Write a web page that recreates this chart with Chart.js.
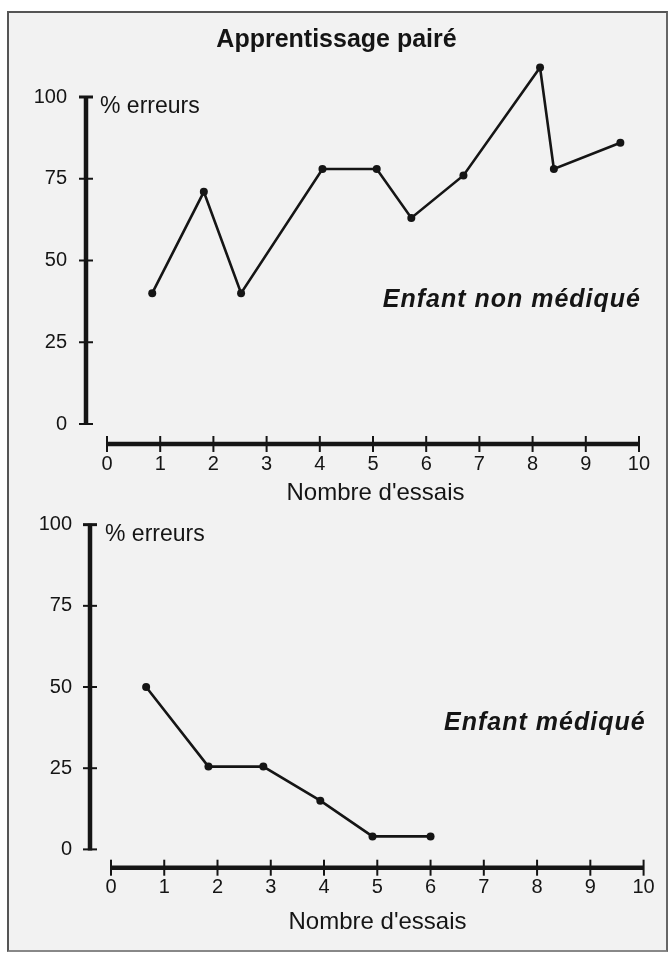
<!DOCTYPE html>
<html>
<head>
<meta charset="utf-8">
<script src="https://cdn.jsdelivr.net/npm/chart.js@4.4.1/dist/chart.umd.min.js"></script>
<style>
  html, body { margin: 0; padding: 0; background: #fff; }
  #page { position: relative; width: 670px; height: 955px; overflow: hidden; }
  #frame {
    position: absolute; left: 7px; top: 11px; width: 657px; height: 937px;
    background: #f2f2f2; border: 2px solid #555; border-bottom-color: #888; border-right-color: #666;
  }
  .box { position: absolute; left: 0; width: 670px; }
</style>
</head>
<body>
<div id="page">
  <div id="frame"></div>
  <div class="box" style="top:0;height:510px"><canvas id="top-chart" width="670" height="510"></canvas></div>
  <div class="box" style="top:510px;height:445px"><canvas id="bottom-chart" width="670" height="445"></canvas></div>
</div>
<script>
const FONT = "'Liberation Sans', Arial, Helvetica, sans-serif";
const INK = "#151515";

// Nombre d'essais ticks and % erreurs ticks
const xTicks = [0, 1, 2, 3, 4, 5, 6, 7, 8, 9, 10];
const yTicks = [0, 25, 50, 75, 100];

// Enfant non médiqué
const nonMedEssais = [0.85, 1.82, 2.52, 4.05, 5.07, 5.72, 6.7, 8.14, 8.4, 9.65];
const nonMedErreurs = [40, 71, 40, 78, 78, 63, 76, 109, 78, 86];

// Enfant médiqué
const medEssais = [0.66, 1.83, 2.86, 3.93, 4.91, 6.0];
const medErreurs = [50, 25.5, 25.5, 15, 4, 4];

function pairs(xs, ys) {
  return xs.map((x, i) => ({ x, y: ys[i] }));
}

// draws the thick axes with crossing ticks, the "% erreurs" label and the series note
const axesDeco = {
  id: "axesDeco",
  beforeDatasetsDraw(chart, args, opts) {
    const { ctx, chartArea } = chart;
    const xs = chart.scales.x;
    const ys = chart.scales.y;
    const ax = chartArea.left;
    const ay = chartArea.bottom + 1;
    ctx.save();
    ctx.strokeStyle = INK;
    ctx.lineCap = "butt";

    // y axis
    ctx.lineWidth = 4.5;
    ctx.beginPath();
    ctx.moveTo(ax, ys.getPixelForValue(0) + 1);
    ctx.lineTo(ax, ys.getPixelForValue(100) - 1);
    ctx.stroke();
    for (const v of yTicks) {
      const py = ys.getPixelForValue(v);
      ctx.lineWidth = v === 100 ? 3 : 2;
      ctx.beginPath();
      ctx.moveTo(ax - 7, py);
      ctx.lineTo(ax + 7, py);
      ctx.stroke();
    }

    // x axis
    ctx.lineWidth = 4.5;
    ctx.beginPath();
    ctx.moveTo(xs.getPixelForValue(0), ay);
    ctx.lineTo(xs.getPixelForValue(10), ay);
    ctx.stroke();
    ctx.lineWidth = 2;
    for (const v of xTicks) {
      const px = xs.getPixelForValue(v);
      ctx.beginPath();
      ctx.moveTo(px, ay - 8);
      ctx.lineTo(px, ay + 8);
      ctx.stroke();
    }

    // labels
    ctx.fillStyle = INK;
    ctx.textBaseline = "middle";
    ctx.textAlign = "left";
    ctx.font = "23px " + FONT;
    ctx.fillText("% erreurs", ax + opts.unitDx, ys.getPixelForValue(97));

    ctx.textAlign = "right";
    ctx.font = "italic bold 25px " + FONT;
    if ("letterSpacing" in ctx) ctx.letterSpacing = "1px";
    ctx.fillText(opts.note, xs.getPixelForValue(10) + 2, ys.getPixelForValue(opts.noteY));
    ctx.restore();
  },
};

function makeChart(id, essais, erreurs, cfg) {
  return new Chart(document.getElementById(id), {
    type: "line",
    data: {
      datasets: [{
        data: pairs(essais, erreurs),
        borderColor: INK,
        borderWidth: 2.6,
        backgroundColor: INK,
        pointRadius: 4,
        pointBorderWidth: 0,
        pointBackgroundColor: INK,
        tension: 0,
        clip: false,
      }],
    },
    options: {
      responsive: false,
      animation: false,
      events: [],
      layout: { padding: { left: cfg.padLeft, right: cfg.padRight, top: cfg.padTop, bottom: 0 } },
      scales: {
        x: {
          type: "linear",
          min: cfg.xMin,
          max: cfg.xMax,
          afterBuildTicks: (s) => { s.ticks = xTicks.map((v) => ({ value: v })); },
          afterFit: (s) => { s.height = cfg.xHeight; s.paddingLeft = 0; s.paddingRight = 0; },
          grid: { display: false, drawTicks: false },
          border: { display: false },
          ticks: { color: INK, font: { family: FONT, size: 20 }, padding: 9, maxRotation: 0, autoSkip: false },
          title: {
            display: true,
            text: "Nombre d'essais",
            color: INK,
            font: { family: FONT, size: 24 },
            padding: { top: 0, bottom: cfg.titlePad },
          },
        },
        y: {
          type: "linear",
          min: cfg.yMin,
          max: cfg.yMax,
          afterBuildTicks: (s) => { s.ticks = yTicks.map((v) => ({ value: v })); },
          afterFit: (s) => { s.width = cfg.yWidth; s.paddingTop = 0; s.paddingBottom = 0; },
          grid: { display: false, drawTicks: false },
          border: { display: false },
          ticks: { color: INK, font: { family: FONT, size: 20 }, padding: cfg.yPad },
        },
      },
      plugins: {
        legend: { display: false },
        tooltip: { enabled: false },
        title: cfg.title
          ? { display: true, text: cfg.title, color: INK, font: { family: FONT, size: 25, weight: "bold" }, padding: { top: 25, bottom: 0 } }
          : { display: false },
        axesDeco: { note: cfg.note, noteY: cfg.noteY, unitDx: cfg.unitDx },
      },
    },
    plugins: [axesDeco],
  });
}

makeChart("top-chart", nonMedEssais, nonMedErreurs, {
  title: "Apprentissage pairé",
  padTop: 0, padLeft: 8, padRight: 5,
  xMin: -0.395, xMax: 10.489, xHeight: 67, titlePad: 2,
  yMin: -5.81, yMax: 112.84, yWidth: 78, yPad: 19,
  note: "Enfant non médiqué", noteY: 38, unitDx: 14,
});

makeChart("bottom-chart", medEssais, medErreurs, {
  title: null,
  padTop: 2, padLeft: 0, padRight: 5,
  xMin: -0.394, xMax: 10.402, xHeight: 88.3, titlePad: 18,
  yMin: -5.33, yMax: 103.28, yWidth: 90, yPad: 18,
  note: "Enfant médiqué", noteY: 39, unitDx: 15,
});
</script>
</body>
</html>
